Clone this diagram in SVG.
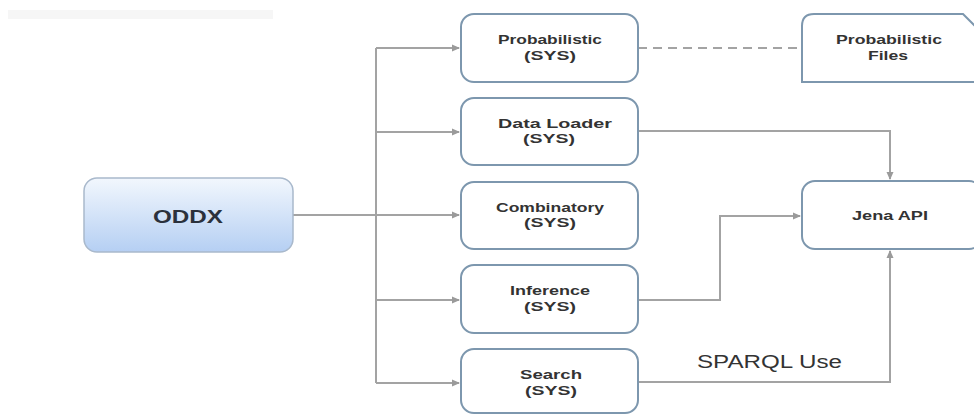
<svg xmlns="http://www.w3.org/2000/svg" width="974" height="415" viewBox="0 0 974 415">
<defs>
<linearGradient id="g" x1="0" y1="0" x2="0" y2="1">
<stop offset="0" stop-color="#f2f7fd"/>
<stop offset="1" stop-color="#b5cff3"/>
</linearGradient>
<marker id="ah" markerWidth="8" markerHeight="8" refX="7" refY="4" orient="auto" markerUnits="userSpaceOnUse">
<path d="M0,0.5 L8,4 L0,7.5 Z" fill="#9a9a9a"/>
</marker>
</defs>
<style>
.box{fill:#fff;stroke:#7d97ae;stroke-width:2}
.t{font-family:"Liberation Sans",Arial,sans-serif;font-weight:bold;font-size:13px;fill:#333;text-anchor:middle}
.c{fill:none;stroke:#a3a3a3;stroke-width:2}
</style>
<rect width="974" height="415" fill="#fff"/>
<rect x="8" y="10" width="265" height="9" fill="#f6f6f6"/>
<g id="connectors">
<path class="c" d="M293,215 H376"/>
<path class="c" d="M376,48 V383"/>
<path class="c" d="M376,48 H459" marker-end="url(#ah)"/>
<path class="c" d="M376,132 H459" marker-end="url(#ah)"/>
<path class="c" d="M376,215 H459" marker-end="url(#ah)"/>
<path class="c" d="M376,300 H459" marker-end="url(#ah)"/>
<path class="c" d="M376,383 H459" marker-end="url(#ah)"/>
<path class="c" d="M638,48 H802" stroke-dasharray="9,6" stroke="#b3b3b3"/>
<path class="c" d="M638,131 H890 V179" marker-end="url(#ah)"/>
<path class="c" d="M638,300 H720 V216 H800" marker-end="url(#ah)"/>
<path class="c" d="M638,382 H890 V251" marker-end="url(#ah)"/>
</g>
<g id="oddx">
<rect x="84" y="178" width="209" height="74" rx="13" fill="url(#g)" stroke="#a9b9cc" stroke-width="1.5"/>
<text class="t" x="188" y="223" style="font-size:18px;fill:#2b313c" textLength="70" lengthAdjust="spacingAndGlyphs">ODDX</text>
</g>
<g id="probabilistic">
<rect class="box" x="461" y="14" width="177" height="68" rx="13"/>
<text class="t" x="550" y="44" textLength="104" lengthAdjust="spacingAndGlyphs">Probabilistic</text>
<text class="t" x="550" y="60" textLength="52" lengthAdjust="spacingAndGlyphs">(SYS)</text>
</g>
<g id="dataloader">
<rect class="box" x="461" y="98" width="177" height="67" rx="13"/>
<text class="t" x="555" y="128" textLength="114" lengthAdjust="spacingAndGlyphs">Data Loader</text>
<text class="t" x="549" y="143" textLength="52" lengthAdjust="spacingAndGlyphs">(SYS)</text>
</g>
<g id="combinatory">
<rect class="box" x="461" y="182" width="177" height="67" rx="13"/>
<text class="t" x="550" y="212" textLength="108" lengthAdjust="spacingAndGlyphs">Combinatory</text>
<text class="t" x="550" y="227" textLength="52" lengthAdjust="spacingAndGlyphs">(SYS)</text>
</g>
<g id="inference">
<rect class="box" x="461" y="265" width="177" height="68" rx="13"/>
<text class="t" x="550" y="295" textLength="80" lengthAdjust="spacingAndGlyphs">Inference</text>
<text class="t" x="550" y="311" textLength="52" lengthAdjust="spacingAndGlyphs">(SYS)</text>
</g>
<g id="search">
<rect class="box" x="461" y="349" width="177" height="64" rx="13"/>
<text class="t" x="551" y="379" textLength="62" lengthAdjust="spacingAndGlyphs">Search</text>
<text class="t" x="551" y="395" textLength="52" lengthAdjust="spacingAndGlyphs">(SYS)</text>
</g>
<g id="probfiles">
<path class="box" d="M802,82 V26 Q802,14 814,14 H963 L980,31 V82 Z"/>
<text class="t" x="889" y="44" textLength="106" lengthAdjust="spacingAndGlyphs">Probabilistic</text>
<text class="t" x="888" y="60" textLength="40" lengthAdjust="spacingAndGlyphs">Files</text>
</g>
<g id="jena">
<rect class="box" x="802" y="181" width="180" height="68" rx="13"/>
<text class="t" x="890" y="220" textLength="76" lengthAdjust="spacingAndGlyphs">Jena API</text>
</g>
<text x="697" y="368" style="font-family:'Liberation Sans',Arial,sans-serif;font-size:18px;fill:#333" textLength="145" lengthAdjust="spacingAndGlyphs">SPARQL Use</text>
</svg>
